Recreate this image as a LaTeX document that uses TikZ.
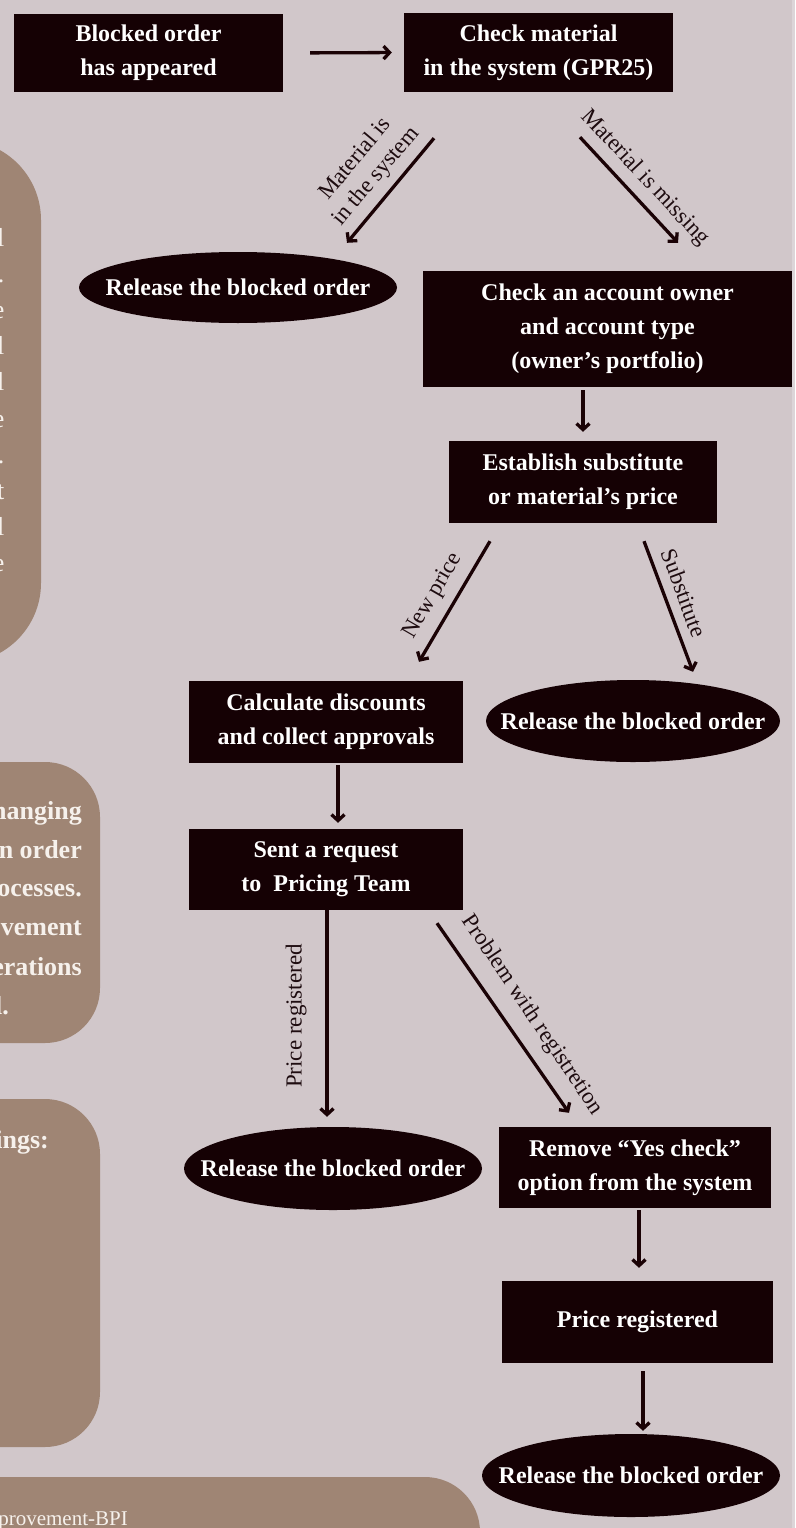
\documentclass[tikz,border=0pt]{standalone}
\usepackage{fontspec}
\setmainfont{Liberation Serif}
\usetikzlibrary{arrows.meta,shapes.geometric}
\definecolor{bgc}{HTML}{D1C7CA}
\definecolor{stripc}{HTML}{DCD5D8}
\definecolor{boxc}{HTML}{150104}
\definecolor{brownc}{HTML}{9F8574}
\definecolor{lightc}{HTML}{F6F1EC}
\definecolor{labc}{HTML}{1E0C10}
\definecolor{arrc}{HTML}{1A0205}
\begin{document}
\begin{tikzpicture}[x=1pt,y=-1pt,
  box/.style={fill=boxc, draw=none, text=white, font=\bfseries\fontsize{24}{34}\selectfont, align=center, inner sep=0pt},
  ell/.style={ellipse, fill=boxc, draw=none, inner sep=0pt},
  elltext/.style={text=white, font=\bfseries\fontsize{24}{30}\selectfont, inner sep=0pt},
  arr/.style={draw=arrc, line width=3.3pt, -{Straight Barb[length=6pt,width=13pt]}},
  lab/.style={text=labc, font=\fontsize{23}{27}\selectfont, inner sep=0pt, align=center},
  sidebox/.style={fill=brownc, draw=none},
  sidetxt/.style={text=lightc, inner sep=0pt, anchor=base east},
]
\clip (0,0) rectangle (795,1528);
\fill[bgc] (0,0) rectangle (795,1528);
\fill[stripc] (792,0) rectangle (795,1528);

% left brown panels
\fill[sidebox, rounded corners=80pt] (-200,140) rectangle (41,663);
\fill[sidebox, rounded corners=55pt] (-200,762) rectangle (100,1043);
\fill[sidebox, rounded corners=55pt] (-200,1099) rectangle (100,1447);
\fill[sidebox, rounded corners=55pt] (-200,1477) rectangle (480,1700);

% panel A fragments
\foreach \c [count=\i from 0] in {l,.,e,l,l,e,.,t,l,e}{
  \node[sidetxt, font=\fontsize{26}{36}\selectfont] at (4.5,{246+36.2*\i}) {\c};
}
% panel B fragments
\begin{scope}[every node/.style={sidetxt, font=\bfseries\fontsize{26}{39}\selectfont}]
\node at (82,819) {hanging};
\node at (82,858) {n order};
\node at (82,896) {ocesses.};
\node at (82,935) {vement};
\node at (82,975) {erations};
\node at (9,1014) {l.};
\node at (49,1148) {ings:};
\end{scope}
\node[sidetxt, font=\fontsize{21}{25}\selectfont] at (128,1525) {provement-BPI};

% flow boxes
\node[box, minimum width=269pt, minimum height=78pt] (b1) at (148.5,53) {Blocked order\\has appeared};
\node[box, minimum width=269pt, minimum height=79pt] (b2) at (538.5,52.5) {Check material\\in the system (GPR25)};
\node[box, minimum width=369pt, minimum height=116pt] (b3) at (607.5,329) {Check an account owner\\and account type\\(owner’s portfolio)};
\node[box, minimum width=268pt, minimum height=82pt] (b4) at (583,482) {Establish substitute\\or material’s price};
\node[box, minimum width=274pt, minimum height=82pt] (b5) at (326,722) {Calculate discounts\\and collect approvals};
\node[box, minimum width=274pt, minimum height=81pt] (b6) at (326,869.5) {Sent a request\\to~ Pricing Team};
\node[box, minimum width=272pt, minimum height=81pt] (b7) at (635,1167.5) {Remove “Yes check”\\option from the system};
\node[box, minimum width=271pt, minimum height=82pt] (b8) at (637.5,1322) {Price registered};

% ellipses
\node[ell, minimum width=318pt, minimum height=71pt] (e1) at (238,287.5) {};
\node[elltext] at (e1) {Release the blocked order};
\node[ell, minimum width=294pt, minimum height=82pt] (e2) at (633,721) {};
\node[elltext] at (e2) {Release the blocked order};
\node[ell, minimum width=298pt, minimum height=83pt] (e3) at (333,1168.5) {};
\node[elltext] at (e3) {Release the blocked order};
\node[ell, minimum width=298pt, minimum height=83pt] (e4) at (631,1475.5) {};
\node[elltext] at (e4) {Release the blocked order};

% connectors
\draw[arr, shorten <=27pt, shorten >=12pt] (b1.east) -- (b2.west);
\draw[arr] ([shift={(-104.5,46)}]b2.south) -- ([shift={(109,-9)}]e1.north);
\draw[arr] ([shift={(41.5,45)}]b2.south) -- ([shift={(70.5,-28)}]b3.north);
\draw[arr] ([shift={(-24.5,3)}]b3.south) -- ([shift={(0,-9)}]b4.north);
\draw[arr] ([shift={(-93,18)}]b4.south) -- ([shift={(93,-19)}]b5.north);
\draw[arr] ([shift={(61,18)}]b4.south) -- ([shift={(60,-8)}]e2.north);
\draw[arr] ([shift={(12,2)}]b5.south) -- ([shift={(12,-6)}]b6.north);
\draw[arr] ([shift={(1,0)}]b6.south) -- ([shift={(-6,-10)}]e3.north);
\draw[arr] ([shift={(111,13)}]b6.south) -- ([shift={(-66,-14)}]b7.north);
\draw[arr] ([shift={(4,2)}]b7.south) -- ([shift={(1.5,-13)}]b8.north);
\draw[arr] ([shift={(5.5,8)}]b8.south) -- ([shift={(12,-3)}]e4.north);

% labels
\node[lab, rotate=50] (l1) at (366,168) {Material is\\in the system};
\node[lab, rotate=-47] (l2) at (645,178) {Material is missing};
\node[lab, rotate=60] (l3) at (433,596) {New price};
\node[lab, rotate=-69.5] (l4) at (684,593) {Substitute};
\node[lab, rotate=90] (l5) at (296,1016) {Price registered};
\node[lab, rotate=-56] (l6) at (532,1015) {Problem with registretion};
\end{tikzpicture}
\end{document}
